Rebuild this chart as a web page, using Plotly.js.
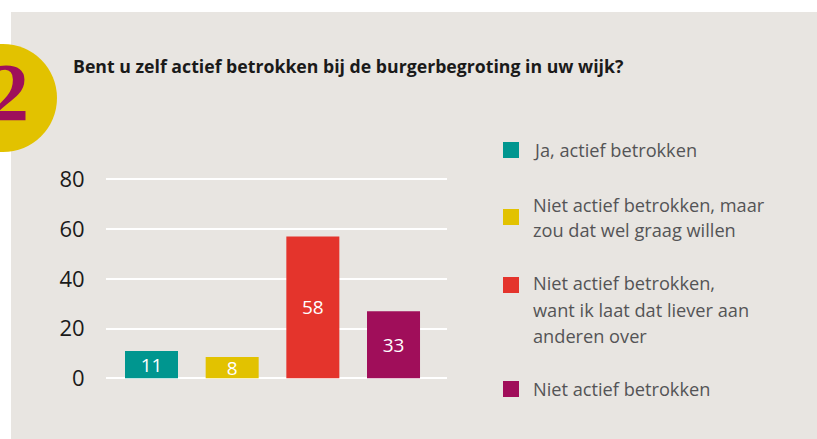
<!DOCTYPE html>
<html>
<head>
<meta charset="utf-8">
<script src="https://cdn.plot.ly/plotly-3.0.1.min.js"></script>
<style>html,body{margin:0;padding:0;background:#fff;}#chart{width:817px;height:439px;}</style>
</head>
<body>
<div id="chart"></div>
<script>
// ---- data ----
var categories = ["Ja, actief betrokken", "Niet actief betrokken, maar<br>zou dat wel graag willen", "Niet actief betrokken,<br>want ik laat dat liever aan<br>anderen over", "Niet actief betrokken"];
var barValues = [11, 8.6, 57, 27];          // bar heights as drawn in the picture
var labelValues = ["11", "8", "58", "33"];  // numbers printed on the bars
var barColors = ["#00968f", "#e2c200", "#e4342c", "#a00e5a"];
var yTickValues = [0, 20, 40, 60, 80];
var yTickLabels = ["0", "20", "40", "60", "80"];
var titleText = "Bent u zelf actief betrokken bij de burgerbegroting in uw wijk?";
var badgeText = "2";

// ---- layout helpers (pixel -> paper) ----
var W = 817, H = 439;
var M = {l: 106, r: 370, t: 178, b: 59};
var PW = W - M.l - M.r, PH = H - M.t - M.b;
function xp(px) { return (px - M.l) / PW; }
function yp(py) { return (H - M.b - py) / PH; }

var xIdx = categories.map(function (c, i) { return i; });

var trace = {
  type: "bar",
  x: xIdx,
  y: barValues,
  text: labelValues,
  texttemplate: "%{text}",
  textposition: "inside",
  insidetextanchor: "middle",
  constraintext: "none",
  textangle: 0,
  textfont: {family: "Open Sans", size: 19, color: "#ffffff"},
  marker: {color: barColors, line: {width: 0}},
  hoverinfo: "skip",
  showlegend: false
};

// legend (drawn as squares + text lines)
var legendSquareY = [150, 217, 285, 389];
var legendLineY = [[150], [205, 230], [283, 310, 336], [389]];
var shapes = [
  {type: "rect", xref: "paper", yref: "paper", x0: xp(11), x1: xp(830), y0: yp(450), y1: yp(12),
   fillcolor: "#e8e5e1", line: {width: 0}, layer: "below"},
  {type: "circle", xref: "paper", yref: "paper", x0: xp(-51), x1: xp(57), y0: yp(152), y1: yp(44),
   fillcolor: "#e2c200", line: {width: 0}, layer: "above"}
];
var annotations = [
  {xref: "paper", yref: "paper", x: xp(9), y: yp(92), xanchor: "center", yanchor: "middle",
   text: badgeText, showarrow: false,
   font: {family: "Liberation Serif", size: 82, color: "#9e0f5b", weight: 700}}
];
categories.forEach(function (c, i) {
  var sy = legendSquareY[i];
  shapes.push({type: "rect", xref: "paper", yref: "paper", x0: xp(503), x1: xp(519), y0: yp(sy + 8), y1: yp(sy - 8),
    fillcolor: barColors[i], line: {width: 0}});
  c.split("<br>").forEach(function (line, j) {
    annotations.push({xref: "paper", yref: "paper", x: xp(531), y: yp(legendLineY[i][j]),
      xanchor: "left", yanchor: "middle", text: line, showarrow: false,
      font: {family: "Open Sans", size: 18.2, color: "#545456"}});
  });
});

var layout = {
  width: W, height: H,
  margin: M,
  paper_bgcolor: "#ffffff",
  plot_bgcolor: "rgba(0,0,0,0)",
  showlegend: false,
  title: {text: "<b>" + titleText + "</b>", xref: "container", yref: "container",
          x: 73 / W, xanchor: "left", y: 1 - 67 / H, yanchor: "middle",
          font: {family: "Open Sans", size: 17.7, color: "#1a1a1a"}},
  bargap: 0.343,
  xaxis: {range: [-0.564, 3.663], showticklabels: false, ticks: "", showgrid: false,
          zeroline: false, showline: false, fixedrange: true},
  yaxis: {range: [-0.68, 80.52], tickvals: yTickValues, ticktext: yTickLabels,
          showgrid: true, gridcolor: "#ffffff", gridwidth: 2,
          zeroline: true, zerolinecolor: "#ffffff", zerolinewidth: 2,
          ticks: "outside", ticklen: 16, tickcolor: "rgba(0,0,0,0)", showline: false,
          tickfont: {family: "Open Sans", size: 22, color: "#1a1a1a"}, fixedrange: true},
  shapes: shapes,
  annotations: annotations
};

Plotly.newPlot("chart", [trace], layout, {staticPlot: true, displayModeBar: false});
</script>
</body>
</html>
